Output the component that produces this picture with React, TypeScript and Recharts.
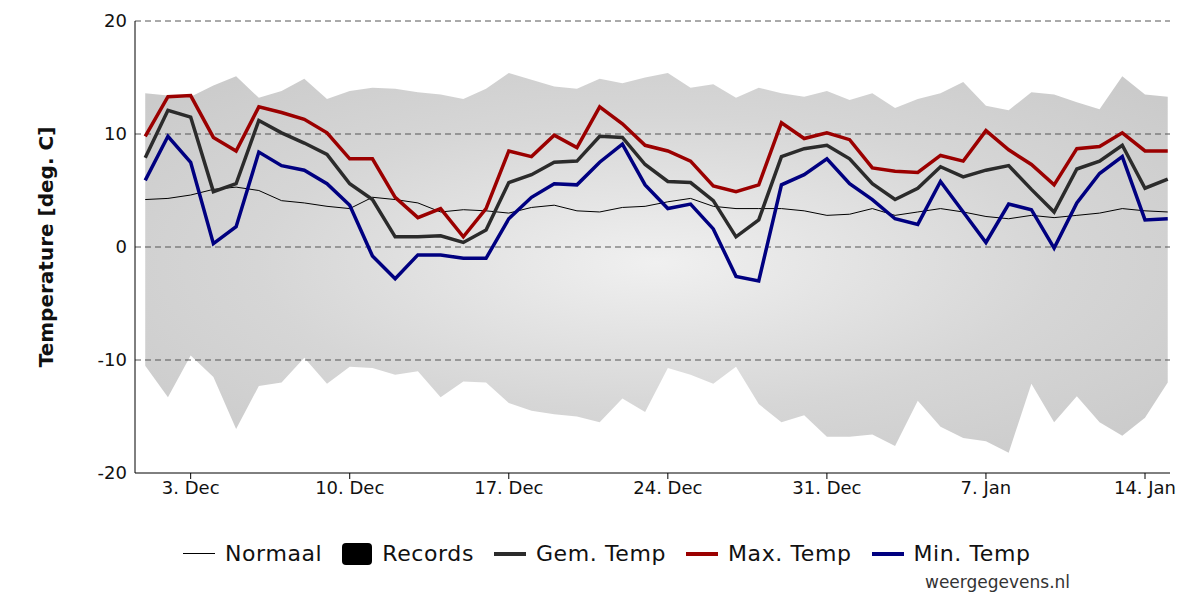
import React from "react";
import { ComposedChart, Area, Line, XAxis, YAxis, ReferenceLine } from "recharts";

const dayIdx = Array.from({ length: 46 }, (_, i) => i);
const maxT = [9.8,13.3,13.4,9.7,8.5,12.4,11.9,11.3,10.1,7.8,7.8,4.4,2.6,3.4,0.9,3.4,8.5,8.0,9.9,8.8,12.4,10.9,9.0,8.5,7.6,5.4,4.9,5.5,11.0,9.6,10.1,9.5,7.0,6.7,6.6,8.1,7.6,10.3,8.6,7.3,5.5,8.7,8.9,10.1,8.5,8.5];
const gemT = [7.9,12.1,11.5,4.9,5.6,11.2,10.1,9.2,8.2,5.6,4.2,0.9,0.9,1.0,0.4,1.5,5.7,6.4,7.5,7.6,9.8,9.7,7.3,5.8,5.7,4.1,0.9,2.4,8.0,8.7,9.0,7.8,5.6,4.2,5.2,7.1,6.2,6.8,7.2,5.1,3.1,6.9,7.6,9.0,5.2,6.0];
const minT = [5.9,9.8,7.5,0.3,1.8,8.4,7.2,6.8,5.6,3.7,-0.8,-2.8,-0.7,-0.7,-1.0,-1.0,2.5,4.4,5.6,5.5,7.5,9.1,5.5,3.4,3.8,1.6,-2.6,-3.0,5.5,6.4,7.8,5.6,4.2,2.5,2.0,5.8,3.1,0.4,3.8,3.3,-0.1,3.9,6.5,8.0,2.4,2.5];
const normaal = [4.2,4.3,4.6,5.1,5.3,5.0,4.1,3.9,3.6,3.4,4.4,4.2,3.9,3.1,3.3,3.2,3.0,3.5,3.7,3.2,3.1,3.5,3.6,4.0,4.3,3.6,3.4,3.4,3.4,3.2,2.8,2.9,3.4,2.8,3.1,3.4,3.1,2.7,2.5,2.8,2.6,2.8,3.0,3.4,3.2,3.1];
const recHigh = [13.6,13.4,13.3,14.3,15.1,13.2,13.8,14.9,13.1,13.8,14.1,14.0,13.7,13.5,13.1,14.0,15.4,14.8,14.2,14.0,14.9,14.5,15.0,15.4,14.1,14.4,13.2,14.1,13.6,13.3,13.8,13.0,13.6,12.3,13.1,13.6,14.6,12.5,12.1,13.7,13.5,12.8,12.2,15.1,13.5,13.3];
const recLow = [-10.5,-13.3,-9.6,-11.5,-16.1,-12.3,-12.0,-9.8,-12.1,-10.6,-10.7,-11.3,-11.0,-13.3,-11.9,-12.0,-13.8,-14.5,-14.8,-15.0,-15.5,-13.4,-14.6,-10.7,-11.3,-12.1,-10.6,-13.9,-15.5,-14.9,-16.8,-16.8,-16.6,-17.6,-13.6,-15.9,-16.9,-17.2,-18.2,-12.1,-15.5,-13.2,-15.5,-16.7,-15.1,-12.0];
const xTicks = [2, 9, 16, 23, 30, 37, 44];
const xTickLabels = ["3. Dec", "10. Dec", "17. Dec", "24. Dec", "31. Dec", "7. Jan", "14. Jan"];
const yTicks = [-20, -10, 0, 10, 20];
const gridLines = [-10, 0, 10, 20];

const data = dayIdx.map((d, i) => ({
  d, max: maxT[i], gem: gemT[i], min: minT[i], norm: normaal[i], rec: [recLow[i], recHigh[i]],
}));

const font = "'DejaVu Sans', Verdana, sans-serif";

export default function App() {
  return (
    <div style={{ position: "absolute", left: 0, top: 0, width: 1200, height: 600, background: "#fff", fontFamily: font }}>
      <ComposedChart width={1200} height={600} data={data} margin={{ top: 21, right: 30, bottom: 97, left: 0 }}>
        <defs>
          <radialGradient id="recGrad" cx="50%" cy="50%" r="65%">
            <stop offset="0%" stopColor="#f0f0f0" />
            <stop offset="60%" stopColor="#d6d6d6" />
            <stop offset="100%" stopColor="#cbcbcb" />
          </radialGradient>
        </defs>
        <XAxis type="number" dataKey="d" domain={[-0.45, 45.1]} ticks={xTicks} height={30}
          tickFormatter={(v) => xTickLabels[xTicks.indexOf(v)]}
          tick={{ fill: "#111", fontSize: 18, fontFamily: font }} stroke="#000" tickSize={6} allowDataOverflow />
        <YAxis domain={[-20, 20]} ticks={yTicks} width={135} tickLine={false} stroke="#000"
          tick={{ fill: "#111", fontSize: 18, fontFamily: font }}
          label={{ value: "Temperature [deg. C]", angle: -90, position: "insideLeft", offset: 46, style: { textAnchor: "middle", fontSize: 20, fontWeight: "bold", fill: "#111", fontFamily: font } }} />
        <Area dataKey="rec" stroke="none" fill="url(#recGrad)" fillOpacity={1} isAnimationActive={false} />
        {gridLines.map((g) => (
          <ReferenceLine key={g} y={g} stroke="#555" strokeDasharray="6 4" />
        ))}
        <Line dataKey="norm" stroke="#000" strokeWidth={1} dot={false} isAnimationActive={false} />
        <Line dataKey="gem" stroke="#2b2b2b" strokeWidth={3.5} dot={false} isAnimationActive={false} />
        <Line dataKey="max" stroke="#9b0000" strokeWidth={3.5} dot={false} isAnimationActive={false} />
        <Line dataKey="min" stroke="#000080" strokeWidth={3.5} dot={false} isAnimationActive={false} />
      </ComposedChart>
      <div style={{ position: "absolute", top: 541, left: 183, display: "flex", alignItems: "center", fontSize: 22, color: "#111", gap: 20, letterSpacing: 0.6 }}>
        <span style={{ display: "flex", alignItems: "center", gap: 10 }}><span style={{ width: 32, height: 1, background: "#000" }} />Normaal</span>
        <span style={{ display: "flex", alignItems: "center", gap: 10 }}><span style={{ width: 30, height: 22, background: "#000", borderRadius: 4 }} />Records</span>
        <span style={{ display: "flex", alignItems: "center", gap: 10 }}><span style={{ width: 32, height: 4, background: "#2b2b2b" }} />Gem. Temp</span>
        <span style={{ display: "flex", alignItems: "center", gap: 10 }}><span style={{ width: 32, height: 4, background: "#9b0000" }} />Max. Temp</span>
        <span style={{ display: "flex", alignItems: "center", gap: 10 }}><span style={{ width: 32, height: 4, background: "#000080" }} />Min. Temp</span>
      </div>
      <div style={{ position: "absolute", top: 572, left: 925, fontSize: 17, color: "#333" }}>weergegevens.nl</div>
    </div>
  );
}
